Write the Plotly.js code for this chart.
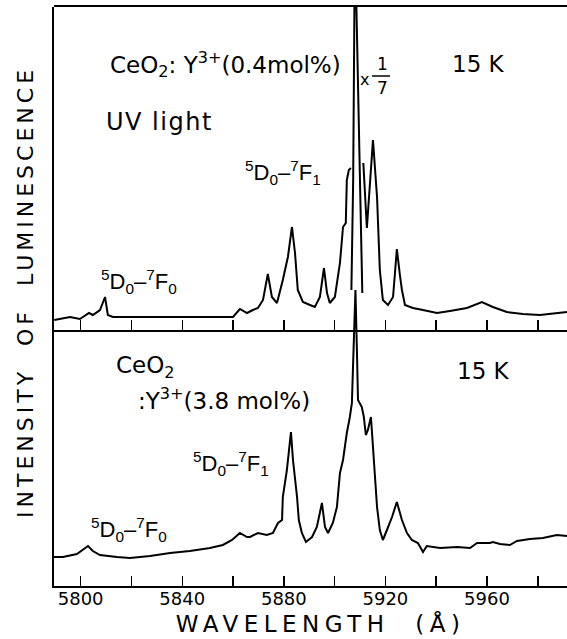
<!DOCTYPE html>
<html>
<head>
<meta charset="utf-8">
<script src="https://cdn.plot.ly/plotly-3.0.1.min.js"></script>
<style>
html,body{margin:0;padding:0;background:#fff;}
#chart{width:567px;height:639px;}
</style>
</head>
<body>
<div id="chart"></div>
<script>
// ---- Data (wavelength in Å, intensity in arbitrary units) ----
// Upper spectrum: CeO2:Y3+ (0.4 mol%), UV light, 15 K (central peak segment drawn at x 1/7)
const wlTop = [5789.6,5791.9,5795.8,5799.7,5803.3,5804.8,5807.6,5809.6,5810.7,5812.7,5827.3,5847.0,5860.0,5862.7,5865.5,5867.8,5869.8,5871.8,5873.7,5875.3,5877.3,5879.6,5881.6,5883.2,5884.4,5885.5,5887.5,5890.3,5892.2,5894.2,5895.8,5897.0,5898.1,5900.1,5902.1,5903.3,5904.4,5904.8,5905.6,5906.4,5906.5,5906.6,5907.3,5907.7,5908.0,5908.6,5909.3,5910.3,5910.9,5911.1,5911.3,5912.7,5915.1,5916.7,5917.8,5919.0,5921.0,5923.0,5923.7,5924.5,5925.7,5926.5,5927.7,5930.8,5934.8,5940.3,5945.4,5952.1,5958.0,5962.3,5967.8,5974.1,5980.8,5987.5,5991.5];
const intTop = [10,11,13,11,17,15,20,33,15,13,13,13,13,21,17,20,22,30,56,33,27,50,73,103,77,40,28,25,23,33,62,37,27,33,67,103,107,150,160,162,null,40,150,290,400,320,237,94,37,null,167,102,190,133,60,30,25,33,55,81,55,40,25,22,20,17,19,22,28,23,18,16,15,17,18];

// Lower spectrum: CeO2:Y3+ (3.8 mol%), 15 K
const wlBot = [5789.5,5793.0,5798.5,5800.9,5802.9,5804.8,5807.6,5814.3,5819.4,5827.3,5835.2,5843.0,5850.9,5856.0,5859.6,5862.7,5865.5,5866.7,5869.8,5873.3,5875.7,5877.7,5879.3,5879.6,5881.2,5882.8,5883.6,5885.2,5885.9,5887.1,5888.7,5891.1,5893.0,5895.0,5896.2,5897.4,5899.3,5900.9,5902.1,5903.3,5904.8,5906.0,5906.8,5907.2,5907.6,5908.2,5908.8,5909.2,5910.7,5911.5,5912.3,5913.1,5914.3,5914.7,5915.9,5916.7,5917.8,5919.0,5920.6,5922.6,5924.5,5926.5,5928.5,5930.4,5932.8,5934.8,5936.3,5941.5,5948.2,5953.3,5956.1,5961.1,5962.3,5965.1,5969.0,5971.8,5976.9,5982.0,5987.5,5991.5];
const intBot = [29,29,32,36,40,35,31,29,28,30,33,35,38,41,46,53,49,49,53,51,53,63,66,89,116,154,126,89,66,53,44,49,59,83,59,53,63,79,113,126,153,169,183,216,253,296,233,186,179,169,151,156,169,153,116,79,56,46,56,69,84,66,53,46,43,34,40,38,39,38,43,43,44,42,41,45,47,48,51,50];

// Tick values and labels
const tickVals = [5800,5820,5840,5860,5880,5900,5920,5940,5960,5980];
const tickText = ['5800','','5840','','5880','','5920','','5960',''];

// ---- Layout geometry (pixels) ----
const W = 567, H = 639, L = 54, R = 567, T = 7, B = 586, MID = 330;
const px = x => (x - L) / (R - L);
const py = y => (B - y) / (B - T);
const midFrac = py(MID);
const xRange = [5789.5, 5991.5];

const lineStyle = {color:'#000', width:2};

const traces = [
  {x: wlBot, y: intBot, xaxis:'x', yaxis:'y', mode:'lines', line: lineStyle, hoverinfo:'skip'},
  {x: wlTop, y: intTop, xaxis:'x2', yaxis:'y2', mode:'lines', line: lineStyle, connectgaps:false, hoverinfo:'skip'}
];

const F = 'DejaVu Sans, sans-serif';
const NARROW = 'Liberation Sans Narrow, Liberation Sans, Arial, sans-serif';
const big = {family:F, size:23, color:'#000'};
const term = {family:NARROW, size:22, color:'#000'};

function ann(text, x, y, font, extra) {
  return Object.assign({text: text, xref:'paper', yref:'paper', x: px(x), y: py(y),
    xanchor:'left', yanchor:'middle', showarrow:false, font: font}, extra || {});
}

const annotations = [
  ann('CeO<sub>2</sub>: Y<sup>3+</sup>(0.4mol%)', 108, 64, big),
  ann('UV light', 110, 122, {family:F, size:24, color:'#000'}),
  ann('x', 358, 79, {family:F, size:16, color:'#000'}),
  ann('1', 375, 64, {family:F, size:17, color:'#000'}),
  ann('7', 375, 88, {family:F, size:17, color:'#000'}),
  ann('15 K', 450, 64, big),
  ann('<sup>5</sup>D<sub>0</sub>–<sup>7</sup>F<sub>1</sub>', 243, 172, term),
  ann('<sup>5</sup>D<sub>0</sub>–<sup>7</sup>F<sub>0</sub>', 99, 282, term),
  ann('CeO<sub>2</sub>', 114, 367, big),
  ann(':Y<sup>3+</sup>(3.8 mol%)', 136, 399, big),
  ann('15 K', 455, 371, big),
  ann('<sup>5</sup>D<sub>0</sub>–<sup>7</sup>F<sub>1</sub>', 191, 463, term),
  ann('<sup>5</sup>D<sub>0</sub>–<sup>7</sup>F<sub>0</sub>', 89, 529, term),
  ann('WAVELENGTH  (Å)', 320, 623, {family:F, size:23, color:'#000'}, {xanchor:'center'}),
  ann('INTENSITY  OF  LUMINESCENCE', 25, 292, {family:F, size:22, color:'#000'}, {xanchor:'center', textangle:-90})
];

const shapes = [
  {type:'line', xref:'paper', yref:'paper', x0: px(372), x1: px(390), y0: py(76), y1: py(76), line:{color:'#000', width:1.5}}
];

const xBase = {
  range: xRange, tickmode:'array', tickvals: tickVals, ticktext: tickText,
  ticks:'inside', ticklen:10, tickwidth:1.5, tickcolor:'#000',
  showline:true, linecolor:'#000', linewidth:2, showgrid:false, zeroline:false,
  fixedrange:true
};

const layout = {
  width: W, height: H,
  margin: {l: L, r: W - R, t: T, b: H - B, pad: 0},
  paper_bgcolor:'#fff', plot_bgcolor:'rgba(0,0,0,0)',
  showlegend:false,
  xaxis: Object.assign({}, xBase, {anchor:'y', domain:[0,1], showticklabels:true, ticklabelstandoff:-5,
    tickfont:{family:F, size:18, color:'#000'}}),
  xaxis2: Object.assign({}, xBase, {anchor:'y2', domain:[0,1], showticklabels:false, mirror:true}),
  // lower spectrum axis spans the whole height (same scale as the lower frame) so its tallest peak is not cut at the divider
  yaxis: {domain:[0, 1], range:[0, B - T], anchor:'x', showline:true, linecolor:'#000', linewidth:2,
    ticks:'', showticklabels:false, showgrid:false, zeroline:false, fixedrange:true},
  yaxis2: {domain:[midFrac, 1], range:[0, MID - T], anchor:'x2', showline:false,
    ticks:'', showticklabels:false, showgrid:false, zeroline:false, fixedrange:true},
  annotations: annotations,
  shapes: shapes
};

Plotly.newPlot('chart', traces, layout, {staticPlot:true, displayModeBar:false}).then(() => {
  document.querySelectorAll('.annotation-text').forEach(el => {
    const t = el.textContent;
    let sp = null;
    if (t.indexOf('WAVELENGTH') >= 0) sp = '5.5px';
    else if (t.indexOf('INTENSITY') >= 0) sp = '4px';
    else if (t.indexOf('UV light') >= 0) sp = '1.5px';
    if (sp) { el.setAttribute('letter-spacing', sp); el.style.letterSpacing = sp; }
  });
});
</script>
</body>
</html>
